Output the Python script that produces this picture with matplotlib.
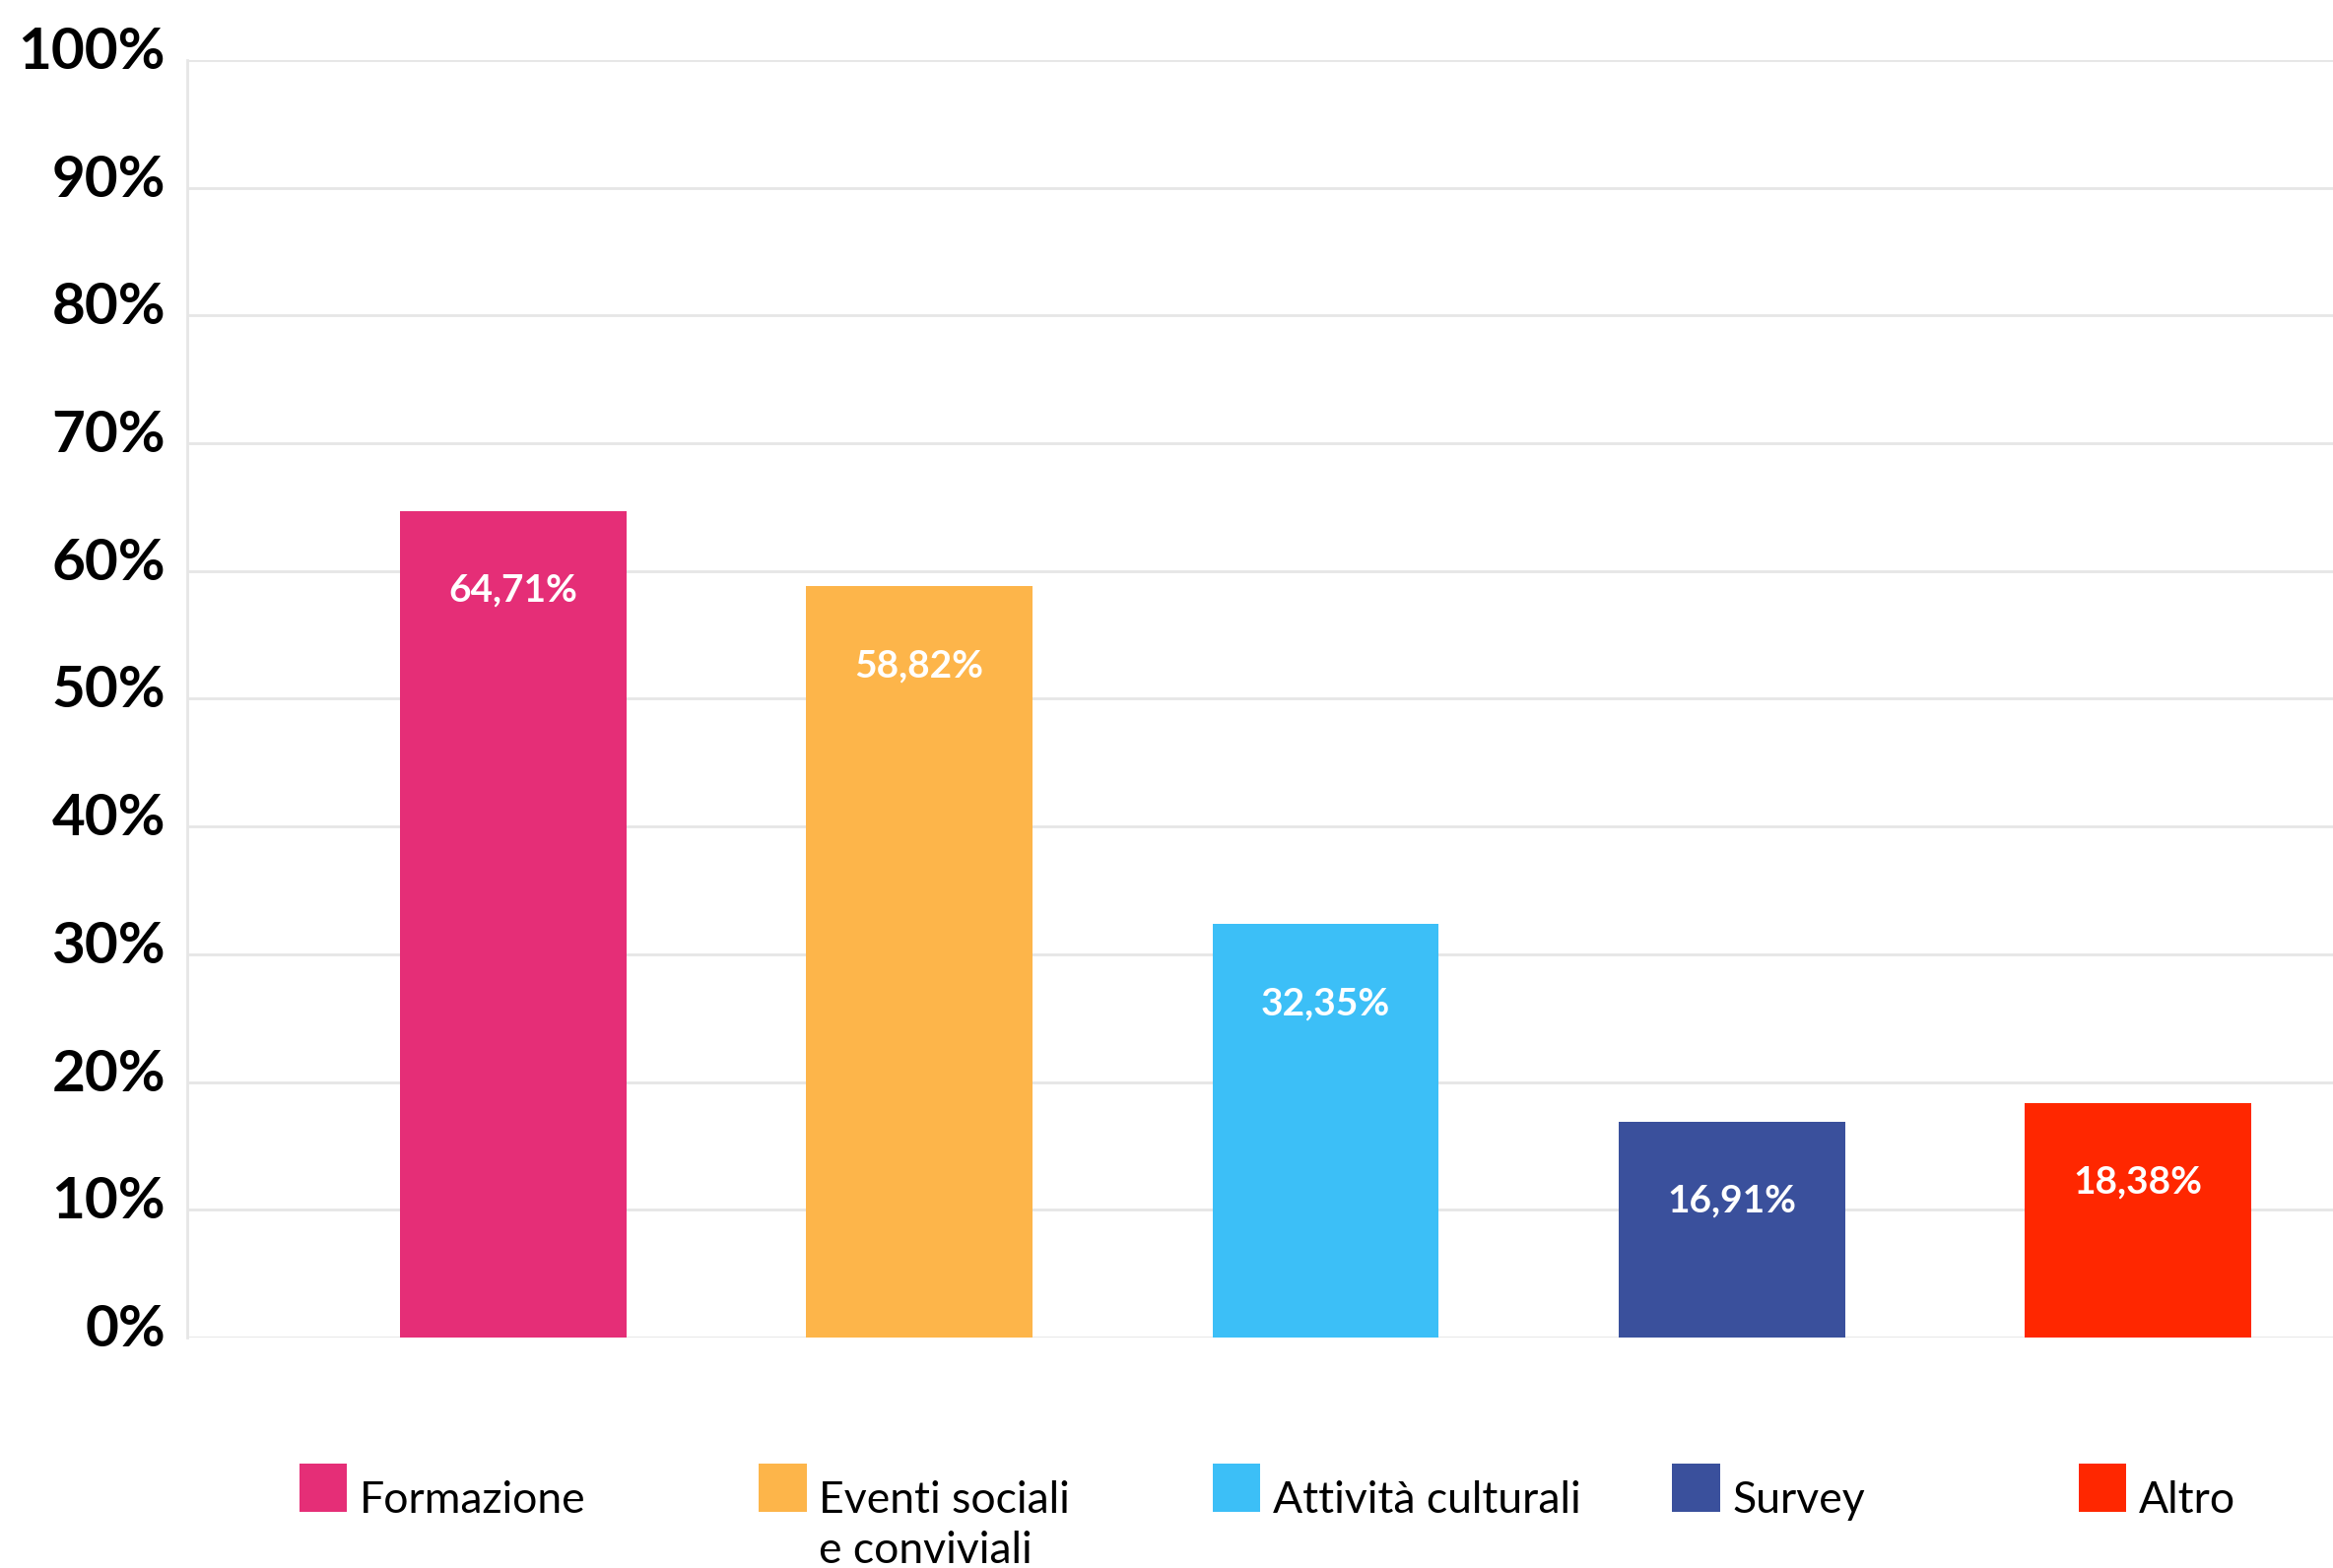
import matplotlib
matplotlib.use("Agg")
import matplotlib.pyplot as plt
from matplotlib.patches import Rectangle
import matplotlib.transforms as mtransforms

categories = ["Formazione", "Eventi sociali\ne conviviali", "Attività culturali", "Survey", "Altro"]
values = [64.71, 58.82, 32.35, 16.91, 18.38]
value_labels = ["64,71%", "58,82%", "32,35%", "16,91%", "18,38%"]
colors = ["#E52E77", "#FDB54A", "#3CBFF7", "#3A509C", "#FF2700"]
yticks = [0, 10, 20, 30, 40, 50, 60, 70, 80, 90, 100]
ytick_labels = [f"{t}%" for t in yticks]

plt.rcParams['font.family'] = ['Lato', 'DejaVu Sans']

fig = plt.figure(figsize=(23.68, 15.92), dpi=100)
ax = fig.add_axes([0.0803, 0.147, 1 - 0.0803, 0.9617 - 0.147])

x = list(range(len(values)))
ax.bar(x, values, width=0.557, color=colors, zorder=3)

for xi, v, lab in zip(x, values, value_labels):
    ax.annotate(lab, (xi, v), xytext=(0, -58), textcoords='offset points',
                ha='center', va='center', color='white', fontsize=28,
                fontweight='bold', zorder=4)

ax.set_xlim(-0.802, 4.48)
ax.set_ylim(0, 100)
ax.set_yticks(yticks)
ax.set_yticklabels(ytick_labels, fontsize=42, fontweight='bold', color='black')
ax.set_xticks([])
ax.tick_params(axis='y', length=0, pad=16)
offset = mtransforms.ScaledTranslation(0, 9 / 72, fig.dpi_scale_trans)
for lbl in ax.get_yticklabels():
    lbl.set_transform(lbl.get_transform() + offset)
ax.grid(axis='y', color='#E6E6E6', linewidth=2, zorder=0)
for s in ['top', 'right', 'bottom']:
    ax.spines[s].set_visible(False)
ax.spines['left'].set_color('#E6E6E6')
ax.spines['left'].set_linewidth(2)

# legend (manual layout, entries top-aligned)
leg_x = [0.1282, 0.3253, 0.5198, 0.7168, 0.8909]
patch_w = 0.0204
patch_bottom = 0.0361
patch_h = 0.0304
for lx, c, name in zip(leg_x, colors, categories):
    fig.add_artist(Rectangle((lx, patch_bottom), patch_w, patch_h,
                             transform=fig.transFigure, facecolor=c, edgecolor='none'))
    fig.text(lx + 0.0257, 0.0558, name, ha='left', va='top',
             fontsize=32, color='black', linespacing=1.3)

fig.savefig("out.png", dpi=100, facecolor='white')
